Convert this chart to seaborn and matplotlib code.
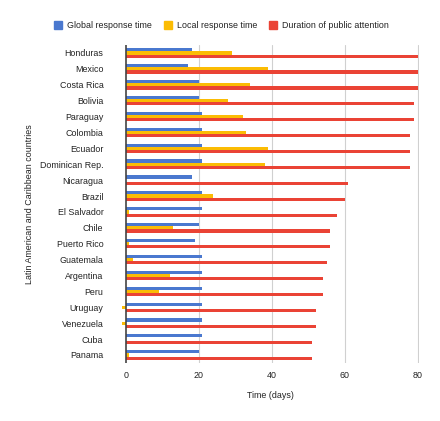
import pandas as pd
import seaborn as sns
import matplotlib.pyplot as plt
from matplotlib.lines import Line2D

# Data
countries = ["Honduras", "Mexico", "Costa Rica", "Bolivia", "Paraguay", "Colombia",
             "Ecuador", "Dominican Rep.", "Nicaragua", "Brazil", "El Salvador", "Chile",
             "Puerto Rico", "Guatemala", "Argentina", "Peru", "Uruguay", "Venezuela",
             "Cuba", "Panama"]
global_response = [18, 17, 20, 20, 21, 21, 21, 21, 18, 21, 21, 20, 19, 21, 21, 21, 21, 21, 21, 20]
local_response = [29, 39, 34, 28, 32, 33, 39, 38, 0, 24, 1, 13, 1, 2, 12, 9, -1, -1, 0, 1]
public_attention = [80, 80, 80, 79, 79, 78, 78, 78, 61, 60, 58, 56, 56, 55, 54, 54, 52, 52, 51, 51]

series_names = ["Global response time", "Local response time", "Duration of public attention"]
colors = ["#4a78cf", "#fbbc04", "#ea4335"]

df = pd.DataFrame({
    "country": countries * 3,
    "series": [series_names[0]] * len(countries) + [series_names[1]] * len(countries)
              + [series_names[2]] * len(countries),
    "days": global_response + local_response + public_attention,
})

sns.set_style("white")
plt.rcParams['font.family'] = ['Liberation Sans', 'DejaVu Sans']
fs = 6.4

fig = plt.figure(figsize=(4.4, 4.21), dpi=100)
ax = fig.add_axes([0.276, 0.138, 0.676, 0.755])

sns.barplot(data=df, y="country", x="days", hue="series", orient="h",
            palette=colors, saturation=1, width=0.6, linewidth=0,
            order=countries, hue_order=series_names, legend=False, ax=ax)

ax.set_xlim(-1.2, 80.3)
ax.set_ylim(len(countries) - 0.5, -0.5)
ax.set_xticks([0, 20, 40, 60, 80])
for x in [20, 40, 60, 80]:
    ax.axvline(x, color="#d0d0d0", lw=0.8, zorder=0)
ax.axvline(0, color="#444444", lw=1.2, zorder=3)

for s in ax.spines.values():
    s.set_visible(False)
ax.tick_params(axis="both", length=0, labelsize=fs, colors="#222222")
ax.tick_params(axis="x", pad=6)
ax.tick_params(axis="y", pad=13)

ax.set_xlabel("Time (days)", fontsize=fs, color="#222222", labelpad=8)
ax.set_ylabel("Latin American and Caribbean countries", fontsize=fs, color="#222222")
ax.yaxis.set_label_coords(-0.295, 0.5)

handles = [Line2D([], [], marker="s", linestyle="none", markersize=6,
                  markerfacecolor=c, markeredgecolor=c) for c in colors]
fig.legend(handles, series_names, loc="center", bbox_to_anchor=(0.503, 0.939), ncol=3,
           frameon=False, fontsize=fs, handlelength=1.0, handletextpad=0.5,
           columnspacing=1.3, labelcolor="#222222")

plt.savefig("out.png", dpi=100)
